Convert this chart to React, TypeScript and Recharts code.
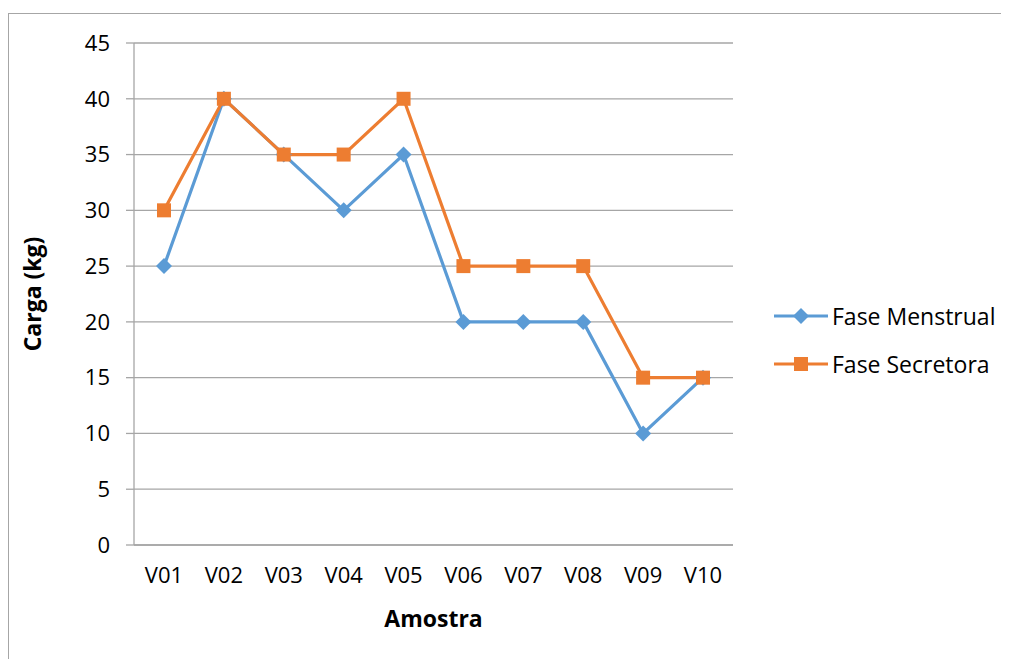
import { LineChart, Line, XAxis, YAxis, CartesianGrid } from 'recharts'

const amostras = ['V01', 'V02', 'V03', 'V04', 'V05', 'V06', 'V07', 'V08', 'V09', 'V10']
const faseMenstrual = [25, 40, 35, 30, 35, 20, 20, 20, 10, 15]
const faseSecretora = [30, 40, 35, 35, 40, 25, 25, 25, 15, 15]
const yTicks = [0, 5, 10, 15, 20, 25, 30, 35, 40, 45]

const BLUE = '#5b9bd5'
const ORANGE = '#ed7d31'
const GRID = '#a6a6a6'
const FONT = '"Open Sans", sans-serif'

const data = amostras.map((amostra, i) => ({
  amostra,
  menstrual: faseMenstrual[i],
  secretora: faseSecretora[i],
}))

const series = [
  { key: 'menstrual', name: 'Fase Menstrual', color: BLUE, shape: 'diamond' },
  { key: 'secretora', name: 'Fase Secretora', color: ORANGE, shape: 'square' },
]

// dots get the line colour through `stroke`; recharts sets fill to white
function Diamond(props: any) {
  const { cx, cy, stroke } = props
  if (cx == null || cy == null) return null
  const r = 8
  return <path d={`M${cx},${cy - r}L${cx + r},${cy}L${cx},${cy + r}L${cx - r},${cy}Z`} fill={stroke} />
}

function Square(props: any) {
  const { cx, cy, stroke } = props
  if (cx == null || cy == null) return null
  return <rect x={cx - 7} y={cy - 7} width={14} height={14} fill={stroke} />
}

function ChartLegend() {
  return (
    <div style={{ position: 'absolute', left: 765, top: 284, fontFamily: FONT, fontSize: 23, color: '#000' }}>
      {series.map((s) => (
        <div key={s.key} style={{ display: 'flex', alignItems: 'center', height: 48 }}>
          <svg width={56} height={20} style={{ marginRight: 3 }}>
            <line x1={1} y1={10} x2={55} y2={10} stroke={s.color} strokeWidth={3} />
            {s.shape === 'diamond' ? (
              <Diamond cx={28} cy={10} stroke={s.color} />
            ) : (
              <Square cx={28} cy={10} stroke={s.color} />
            )}
          </svg>
          <span>{s.name}</span>
        </div>
      ))}
    </div>
  )
}

export default function App() {
  return (
    <div style={{ position: 'relative', width: 1001, height: 651, overflow: 'hidden' }}>
      <div
        style={{
          position: 'absolute',
          left: 0,
          top: 5,
          width: 1020,
          height: 700,
          border: '1px solid #a6a6a6',
          boxSizing: 'border-box',
        }}
      />
      <LineChart
        width={1001}
        height={651}
        data={data}
        margin={{ top: 35, right: 276, bottom: 0, left: 0 }}
        style={{ position: 'absolute', left: 0, top: 0 }}
      >
        <CartesianGrid horizontal vertical={false} stroke={GRID} strokeWidth={1.3} />
        <XAxis
          dataKey="amostra"
          interval={0}
          padding={{ left: 30, right: 30 }}
          tickLine={false}
          axisLine={{ stroke: GRID, strokeWidth: 1.3 }}
          height={114}
          tickMargin={16}
          tick={{ fill: '#000', fontSize: 22, fontFamily: FONT }}
          label={{
            value: 'Amostra',
            position: 'insideTop',
            offset: 66,
            fill: '#000',
            fontSize: 23,
            fontWeight: 700,
            fontFamily: FONT,
          }}
        />
        <YAxis
          domain={[0, 45]}
          ticks={yTicks}
          interval={0}
          width={126}
          tickSize={8}
          tickMargin={16}
          axisLine={{ stroke: GRID, strokeWidth: 1.3 }}
          tickLine={{ stroke: GRID, strokeWidth: 1.3 }}
          tick={{ fill: '#000', fontSize: 22, fontFamily: FONT }}
          label={{
            value: 'Carga (kg)',
            angle: -90,
            position: 'insideLeft',
            offset: 25,
            fill: '#000',
            fontSize: 23,
            fontWeight: 700,
            fontFamily: FONT,
            style: { textAnchor: 'middle' },
          }}
        />
        {series.map((s) => (
          <Line
            key={s.key}
            type="linear"
            dataKey={s.key}
            name={s.name}
            stroke={s.color}
            strokeWidth={3.2}
            dot={s.shape === 'diamond' ? <Diamond /> : <Square />}
            activeDot={false}
            isAnimationActive={false}
          />
        ))}
      </LineChart>
      <ChartLegend />
    </div>
  )
}
